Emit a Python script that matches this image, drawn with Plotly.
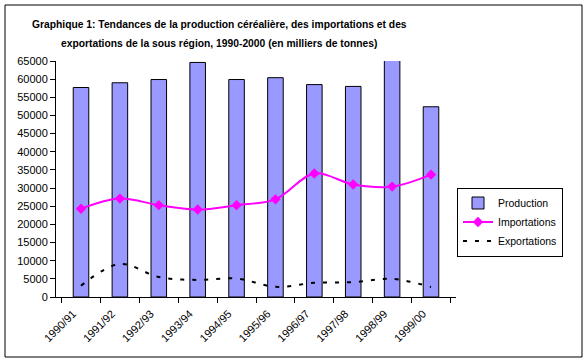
import plotly.graph_objects as go

categories = ["1990/91", "1991/92", "1992/93", "1993/94", "1994/95",
              "1995/96", "1996/97", "1997/98", "1998/99", "1999/00"]
production = [57700, 59000, 59900, 64600, 59900, 60400, 58500, 58000, 65400, 52400]
importations = [24300, 27100, 25300, 24100, 25300, 26900, 34000, 31000, 30400, 33700]
exportations = [3100, 9100, 5500, 4700, 5100, 2800, 3900, 4100, 5000, 2750]
y_ticks = list(range(0, 65001, 5000))

fig = go.Figure()
fig.add_trace(go.Bar(
    x=categories, y=production, name="Production", cliponaxis=False,
    marker=dict(color="#9999FF", line=dict(color="black", width=1)),
))
fig.add_trace(go.Scatter(
    x=categories, y=importations, name="Importations", mode="lines+markers",
    line=dict(color="#FF00FF", width=2, shape="spline", smoothing=1),
    marker=dict(symbol="diamond", size=8, color="#FF00FF"),
))
fig.add_trace(go.Scatter(
    x=categories, y=exportations, name="Exportations", mode="lines",
    line=dict(color="black", width=2, shape="spline", smoothing=1, dash="4px,8px"),
))

W, H = 587, 362
L, R, T, B = 56, 131, 61, 65
pw, ph = W - L - R, H - T - B

def px_x(p):
    return (p - L) / pw

def px_y(p):
    return (H - B - p) / ph

fig.update_layout(
    width=W, height=H,
    margin=dict(l=L, r=R, t=T, b=B),
    paper_bgcolor="white", plot_bgcolor="white",
    font=dict(family="Arial, Liberation Sans, sans-serif", size=11, color="black"),
    bargap=0.6,
    showlegend=True,
    legend=dict(
        x=px_x(457), y=px_y(222), xanchor="left", yanchor="middle",
        bordercolor="black", borderwidth=1, bgcolor="white",
        font=dict(size=10.5), tracegroupgap=0,
    ),
    xaxis=dict(
        type="category", tickangle=-45, tickson="boundaries",
        ticks="outside", ticklen=5, tickcolor="black",
        showline=True, linecolor="black", linewidth=1,
        showgrid=False, tickfont=dict(size=11),
        ticklabelshift=-8, ticklabelstandoff=5,
    ),
    yaxis=dict(
        range=[0, 65000], tickvals=y_ticks, ticktext=[str(v) for v in y_ticks],
        ticks="outside", ticklen=5, tickcolor="black",
        showline=True, linecolor="black", linewidth=1,
        showgrid=False, zeroline=False, tickfont=dict(size=11),
    ),
    shapes=[dict(
        type="rect", xref="paper", yref="paper",
        x0=px_x(5), x1=px_x(582), y0=px_y(357), y1=px_y(5),
        line=dict(color="black", width=1), layer="above",
    )],
    annotations=[
        dict(text="<b>Graphique 1: Tendances de la production céréalière, des importations et des</b>",
             xref="paper", yref="paper", x=px_x(219), y=px_y(25),
             xanchor="center", yanchor="middle", showarrow=False,
             font=dict(size=10.3)),
        dict(text="<b>exportations de la sous région, 1990-2000 (en milliers de tonnes)</b>",
             xref="paper", yref="paper", x=px_x(219), y=px_y(43),
             xanchor="center", yanchor="middle", showarrow=False,
             font=dict(size=10.3)),
    ],
)

fig.write_html("out.html", config={"displayModeBar": False},
               post_script="document.body.style.margin='0px';document.body.style.overflow='hidden';")
